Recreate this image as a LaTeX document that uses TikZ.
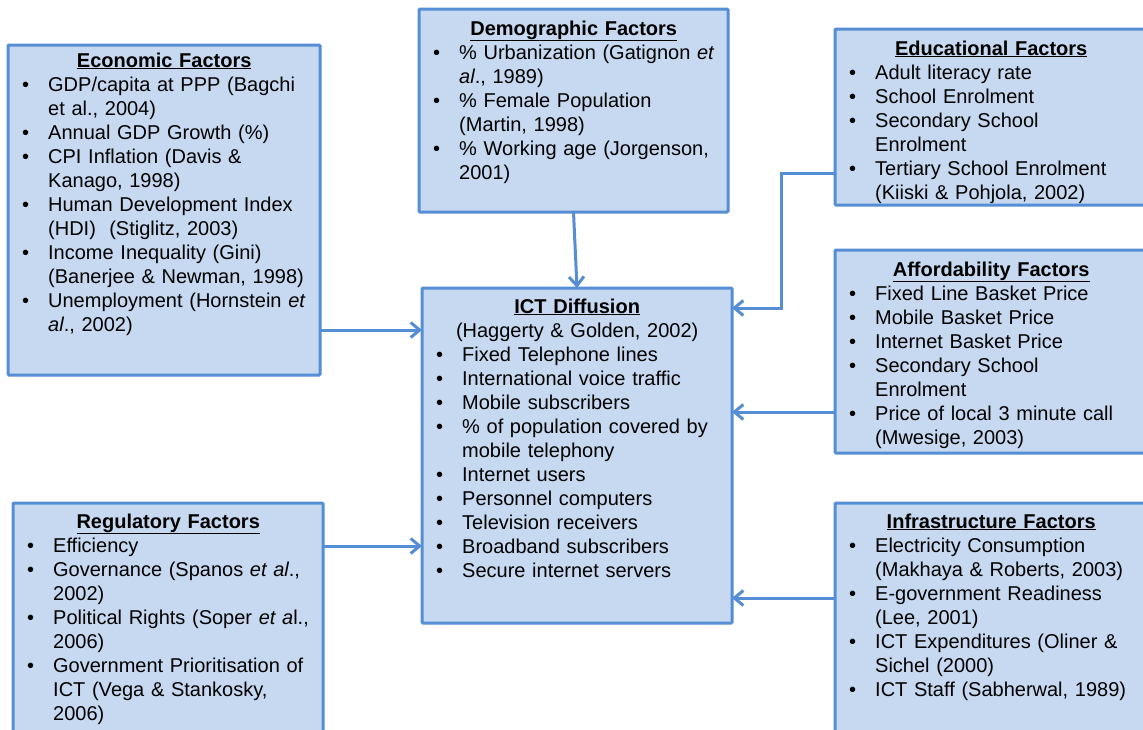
\documentclass[tikz,border=0pt]{standalone}
\usepackage{fontspec}
\setmainfont{Liberation Sans}
\usetikzlibrary{arrows.meta,calc}

\definecolor{boxfill}{RGB}{198,217,241}
\definecolor{boxedge}{RGB}{85,142,213}

% centred, bold, underlined heading of a box
\newcommand\boxtitle[1]{\makebox[\linewidth][c]{\bfseries\underline{#1}}\par}
% centred plain line
\newcommand\boxcentre[1]{\makebox[\linewidth][c]{#1}\par}
% bulleted entry; continuation lines (after \\) hang under the text
\newcommand\bitem[1]{{\let\\\newline\hangindent=30pt\hangafter=1\noindent
  \makebox[30pt][l]{\hspace{4pt}\textbullet}#1\par}}

\tikzset{
  factor/.style={draw=boxedge, fill=boxfill, line width=3pt, anchor=north west,
    inner sep=0pt, outer sep=0pt, rounded corners=1pt},
  body/.style={anchor=base west, inner sep=0pt, text width=#1,
    font=\fontsize{20}{24}\selectfont,
    execute at begin node={\setlength{\parskip}{0pt}\raggedright}},
  link/.style={draw=boxedge, line width=3pt, -{Straight Barb[length=9pt,width=15pt]}}
}

\begin{document}
\begin{tikzpicture}[x=1pt,y=-1pt]
\useasboundingbox (0,0) rectangle (1143,729);
\clip (0,0) rectangle (1143,729);
\fill[white] (0,0) rectangle (1143,729);

% boxes
\node[factor, minimum width=312pt, minimum height=330pt] (econ)  at (8,45)   {};
\node[factor, minimum width=309pt, minimum height=203pt] (demo)  at (419,9)  {};
\node[factor, minimum width=312pt, minimum height=176pt] (edu)   at (835,29) {};
\node[factor, minimum width=310pt, minimum height=335pt] (ict)   at (422,288) {};
\node[factor, minimum width=312pt, minimum height=203pt] (aff)   at (835,250) {};
\node[factor, minimum width=312pt, minimum height=260pt] (infra) at (835,503) {};
\node[factor, minimum width=310pt, minimum height=260pt] (reg)   at (13,503) {};

% box contents
\node[body=292pt] (econ-text) at ($(econ.north west)+(10,22)$) {%
  \boxtitle{Economic Factors}
  \bitem{GDP/capita at PPP (Bagchi\\et al., 2004)}
  \bitem{Annual GDP Growth (\%)}
  \bitem{CPI Inflation (Davis \&\\Kanago, 1998)}
  \bitem{Human Development Index\\(HDI)\ \ (Stiglitz, 2003)}
  \bitem{Income Inequality (Gini)\\(Banerjee \& Newman, 1998)}
  \bitem{Unemployment (Hornstein \textit{et}\\\textit{al}., 2002)}};

\node[body=289pt] (demo-text) at ($(demo.north west)+(10,26)$) {%
  \boxtitle{Demographic Factors}
  \bitem{\% Urbanization (Gatignon \textit{et}\\\textit{al}., 1989)}
  \bitem{\% Female Population\\(Martin, 1998)}
  \bitem{\% Working age (Jorgenson,\\2001)}};

\node[body=292pt] (edu-text) at ($(edu.north west)+(10,26)$) {%
  \boxtitle{Educational Factors}
  \bitem{Adult literacy rate}
  \bitem{School Enrolment}
  \bitem{Secondary School\\Enrolment}
  \bitem{Tertiary School Enrolment\\(Kiiski \& Pohjola, 2002)}};

\node[body=290pt] (ict-text) at ($(ict.north west)+(10,25)$) {%
  \boxtitle{ICT Diffusion}
  \boxcentre{(Haggerty \& Golden, 2002)}
  \bitem{Fixed Telephone lines}
  \bitem{International voice traffic}
  \bitem{Mobile subscribers}
  \bitem{\% of population covered by\\mobile telephony}
  \bitem{Internet users}
  \bitem{Personnel computers}
  \bitem{Television receivers}
  \bitem{Broadband subscribers}
  \bitem{Secure internet servers}};

\node[body=292pt] (aff-text) at ($(aff.north west)+(10,26)$) {%
  \boxtitle{Affordability Factors}
  \bitem{Fixed Line Basket Price}
  \bitem{Mobile Basket Price}
  \bitem{Internet Basket Price}
  \bitem{Secondary School\\Enrolment}
  \bitem{Price of local 3 minute call\\(Mwesige, 2003)}};

\node[body=292pt] (infra-text) at ($(infra.north west)+(10,25)$) {%
  \boxtitle{Infrastructure Factors}
  \bitem{Electricity Consumption\\(Makhaya \& Roberts, 2003)}
  \bitem{E-government Readiness\\(Lee, 2001)}
  \bitem{ICT Expenditures (Oliner \&\\Sichel (2000)}
  \bitem{ICT Staff (Sabherwal, 1989)}};

\node[body=290pt] (reg-text) at ($(reg.north west)+(10,25)$) {%
  \boxtitle{Regulatory Factors}
  \bitem{Efficiency}
  \bitem{Governance (Spanos \textit{et al}.,\\2002)}
  \bitem{Political Rights (Soper \textit{et a}l.,\\2006)}
  \bitem{Government Prioritisation of\\ICT (Vega \& Stankosky,\\2006)}};

% connectors into the ICT Diffusion box
\draw[link] (econ.east |- 0,330) -- (ict.west |- 0,330);
\draw[link] (reg.east |- 0,546) -- (ict.west |- 0,546);
\draw[link] (demo.south) -- (ict.north);
\draw[link] (edu.west |- 0,173) -- ++(-54,0) |- (ict.east |- 0,308);
\draw[link] (aff.west |- 0,412) -- (ict.east |- 0,412);
\draw[link] (infra.west |- 0,598) -- (ict.east |- 0,598);
\end{tikzpicture}
\end{document}
